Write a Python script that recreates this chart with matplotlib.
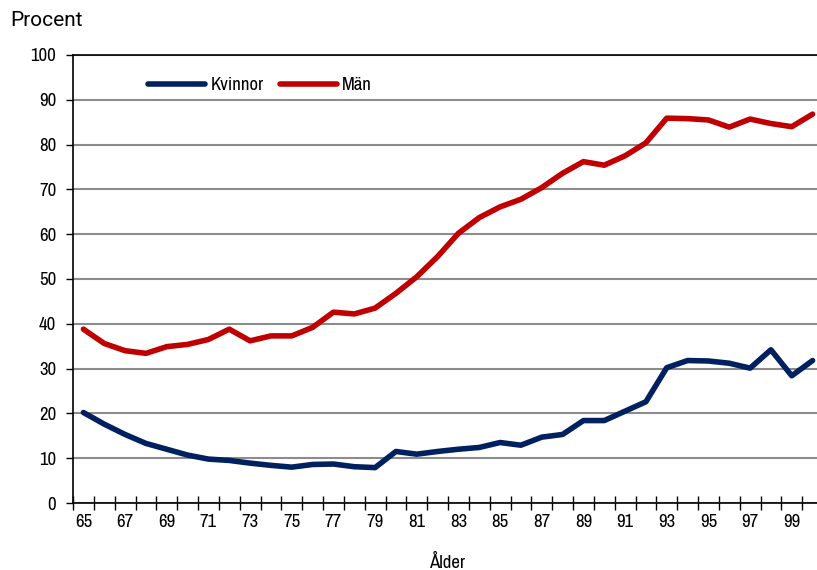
import numpy as np
import matplotlib
matplotlib.use("Agg")
import matplotlib.pyplot as plt

# data
ages = list(range(65, 101))
kvinnor = [20.2, 17.6, 15.3, 13.3, 12.0, 10.7, 9.8, 9.5, 8.9, 8.4, 8.0, 8.6,
           8.7, 8.1, 7.9, 11.5, 10.9, 11.5, 12.0, 12.4, 13.5, 12.9, 14.7, 15.3,
           18.4, 18.4, 20.5, 22.6, 30.2, 31.8, 31.7, 31.2, 30.1, 34.2, 28.4, 31.8]
man = [38.8, 35.6, 34.0, 33.4, 34.9, 35.4, 36.5, 38.8, 36.2, 37.3, 37.3, 39.2,
       42.6, 42.2, 43.5, 46.8, 50.5, 55.0, 60.2, 63.7, 66.1, 67.8, 70.4, 73.6,
       76.2, 75.4, 77.5, 80.4, 85.9, 85.8, 85.5, 83.9, 85.7, 84.7, 84.0, 86.8]
xtick_labels = [str(a) for a in range(65, 100, 2)]
yticks = list(range(0, 101, 10))

narrow = ["Archivo Narrow", "Roboto Condensed", "DejaVu Sans"]
fs = 13.5

fig = plt.figure(figsize=(8.17, 5.70), dpi=100)
# plot area runs a little past the right edge, as in the reference
ax = fig.add_axes([73 / 817, 1 - 503 / 570, 750 / 817, 448 / 570])

ax.plot(ages, kvinnor, color="#002060", lw=4, solid_capstyle="round",
        solid_joinstyle="round", label="Kvinnor", zorder=3)
ax.plot(ages, man, color="#C00000", lw=4, solid_capstyle="round",
        solid_joinstyle="round", label="Män", zorder=3)

ax.set_xlim(64.5, 100.5)
ax.set_ylim(0, 100)
ax.set_yticks(yticks)
ax.set_yticklabels([str(v) for v in yticks], fontsize=fs, family=narrow)
ax.yaxis.grid(True, color="#8c8c8c", lw=1.5)
ax.set_axisbelow(True)
ax.tick_params(axis="y", direction="out", length=5, width=1, pad=7)

# tick marks sit between categories, labels on odd ages
ax.set_xticks(np.arange(64.5, 101, 1))
ax.set_xticklabels([])
ax.tick_params(axis="x", which="major", direction="inout", length=10, width=1)
ax.set_xticks(range(65, 100, 2), minor=True)
ax.set_xticklabels(xtick_labels, minor=True, fontsize=fs, family=narrow)
ax.tick_params(axis="x", which="minor", length=0, pad=8)

for s in ["left", "bottom", "top"]:
    ax.spines[s].set_color("black")
    ax.spines[s].set_linewidth(1.2)
ax.spines["right"].set_visible(False)

ax.set_xlabel("Ålder", fontsize=fs, family=narrow, labelpad=17)
fig.text(10 / 817, 1 - 20 / 570, "Procent", fontsize=15, va="center",
         ha="left", family=["Roboto", "DejaVu Sans"])

leg = ax.legend(loc="upper left", bbox_to_anchor=(0.078, 0.988), ncol=2,
                frameon=False, handlelength=3.0, handletextpad=0.3,
                columnspacing=0.9, prop={"family": narrow, "size": fs})

fig.savefig("out.png", dpi=100)
